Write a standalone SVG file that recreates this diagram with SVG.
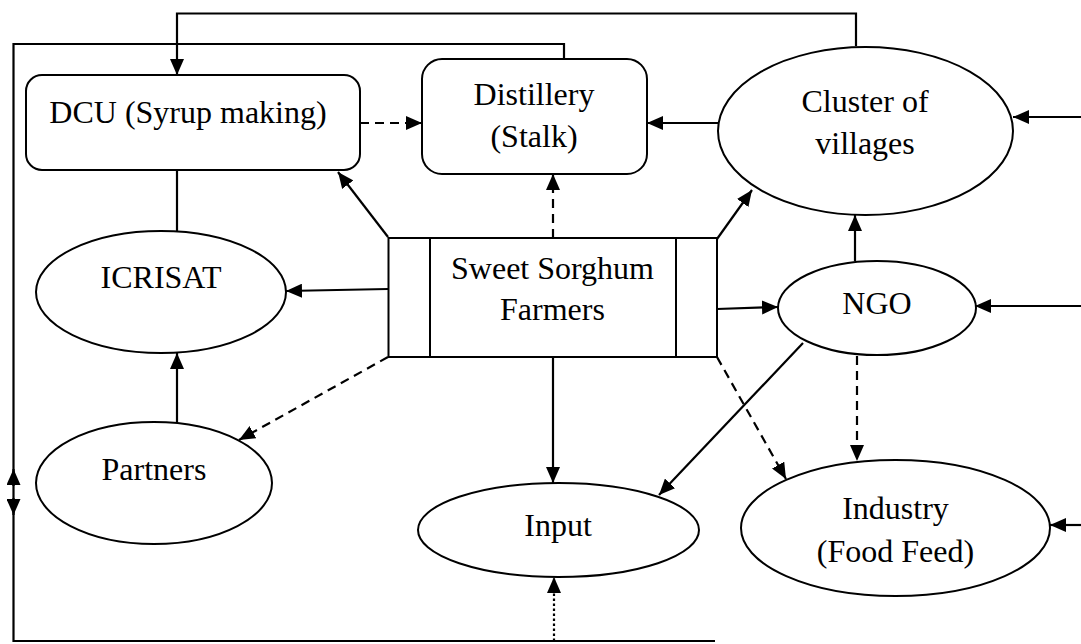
<svg xmlns="http://www.w3.org/2000/svg" width="1081" height="644" viewBox="0 0 1081 644">
<defs>
<marker id="ah" markerUnits="userSpaceOnUse" markerWidth="16" markerHeight="14" refX="16" refY="7" orient="auto">
<path d="M0,0 L16,7 L0,14 Z" fill="#000"/>
</marker>
<style>
.n{fill:#fff;stroke:#000;stroke-width:2}
.t{font-family:"Liberation Serif","Times New Roman",serif;font-size:32px;fill:#000;text-anchor:middle}
.c{fill:none;stroke:#000;stroke-width:2.2}
.a{marker-end:url(#ah)}
.d{stroke-dasharray:9 6}
.o{stroke-dasharray:2.5 2.5}
</style>
</defs>
<rect width="1081" height="644" fill="#fff"/>
<g id="connectors">
<path class="c a" d="M856,46 L856,13.5 L177,13.5 L177,75"/>
<path class="c" d="M564,59 L564,44 L13.5,44 L13.5,641 L715,641"/>
<path class="c a" d="M13.5,486 L13.5,469"/>
<path class="c a" d="M13.5,498 L13.5,515"/>
<path class="c a d" d="M360,123 L422,123"/>
<path class="c a" d="M718,123 L647,123"/>
<path class="c a" d="M1081,117 L1013,117"/>
<path class="c" d="M177,170 L177,231"/>
<path class="c a" d="M388,237 L338,172"/>
<path class="c a d" d="M553,238 L553,174"/>
<path class="c a" d="M717,239 L752,190"/>
<path class="c a" d="M388,289 L286,291"/>
<path class="c a" d="M717,309 L778,307"/>
<path class="c a" d="M855,261 L855,215"/>
<path class="c a" d="M1081,306 L975,306"/>
<path class="c a" d="M177,422 L177,353"/>
<path class="c a d" d="M388,357 L239,440"/>
<path class="c a" d="M553,357 L553,483"/>
<path class="c a d" d="M717,357 L786,479"/>
<path class="c a d" d="M857,356 L857,461"/>
<path class="c a" d="M803,343 L659,495"/>
<path class="c a" d="M1081,525 L1050,525"/>
<path class="c a o" d="M554,641 L554,577"/>
</g>
<g id="dcu">
<rect class="n" x="26" y="75" width="334" height="95" rx="16"/>
<text class="t" x="188" y="123">DCU (Syrup making)</text>
</g>
<g id="distillery">
<rect class="n" x="422" y="59" width="225" height="115" rx="20"/>
<text class="t" x="534" y="105">Distillery</text>
<text class="t" x="534" y="147">(Stalk)</text>
</g>
<g id="cluster">
<ellipse class="n" cx="865.5" cy="131" rx="147.5" ry="84"/>
<text class="t" x="865" y="112">Cluster of</text>
<text class="t" x="865" y="154">villages</text>
</g>
<g id="farmers">
<rect class="n" x="388.5" y="238" width="328.5" height="119"/>
<path d="M430,238 L430,357 M676,238 L676,357" stroke="#000" stroke-width="2" fill="none"/>
<text class="t" x="552.5" y="279">Sweet Sorghum</text>
<text class="t" x="552.5" y="320">Farmers</text>
</g>
<g id="icrisat">
<ellipse class="n" cx="161" cy="292" rx="125" ry="61"/>
<text class="t" x="161" y="288">ICRISAT</text>
</g>
<g id="ngo">
<ellipse class="n" cx="877" cy="308" rx="99" ry="47"/>
<text class="t" x="877" y="314">NGO</text>
</g>
<g id="partners">
<ellipse class="n" cx="154" cy="483" rx="118" ry="61"/>
<text class="t" x="154" y="480">Partners</text>
</g>
<g id="input">
<ellipse class="n" cx="558.5" cy="530" rx="140.5" ry="47"/>
<text class="t" x="558" y="536">Input</text>
</g>
<g id="industry">
<ellipse class="n" cx="895.5" cy="528" rx="154.5" ry="68"/>
<text class="t" x="895.5" y="519">Industry</text>
<text class="t" x="895.5" y="562">(Food Feed)</text>
</g>
</svg>
